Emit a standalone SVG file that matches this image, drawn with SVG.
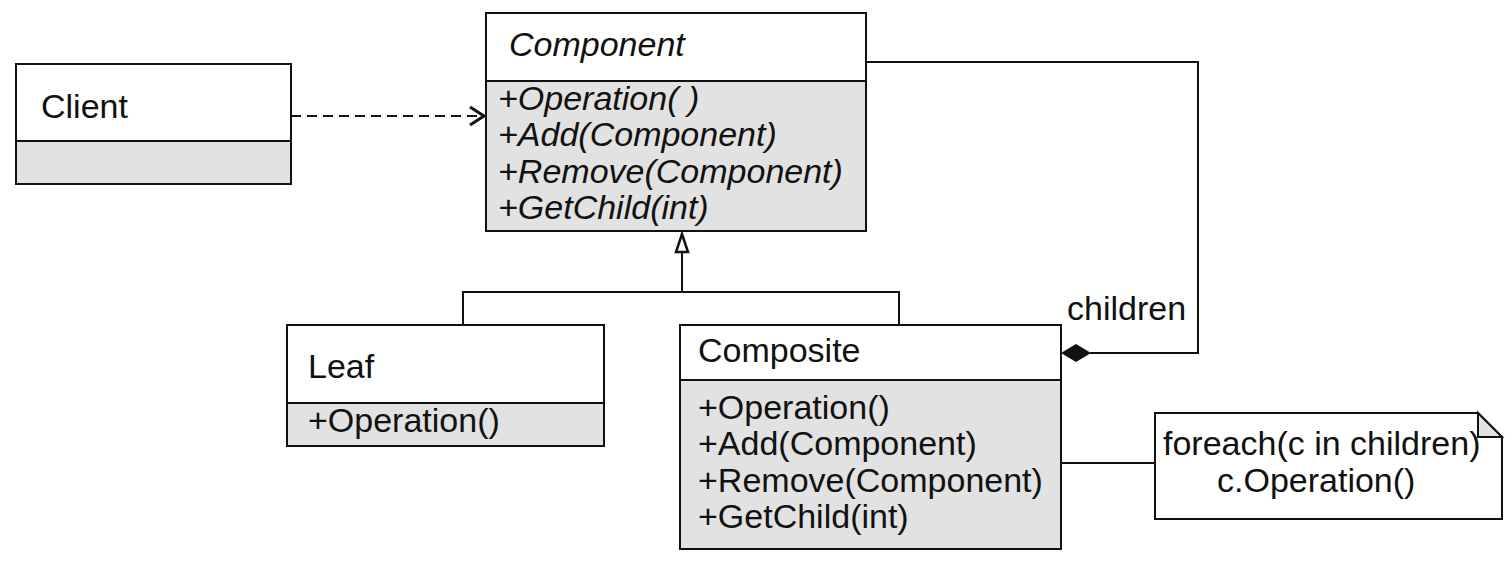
<svg xmlns="http://www.w3.org/2000/svg" width="1512" height="565" viewBox="0 0 1512 565">
<style>
.box{fill:#fff;stroke:#111;stroke-width:2}
.gray{fill:#e2e2e2;stroke:#111;stroke-width:2}
.t{font-family:"Liberation Sans",Arial,sans-serif;font-size:34px;fill:#111}
.i{font-style:italic}
.ln{fill:none;stroke:#111;stroke-width:2}
</style>
<defs>
<marker id="open" markerWidth="20" markerHeight="22" refX="17" refY="11" orient="auto" markerUnits="userSpaceOnUse">
<path d="M3,2 L17,11 L3,20" fill="none" stroke="#111" stroke-width="3"/>
</marker>
</defs>
<g id="connectors">
<path class="ln" d="M291,116 H484" stroke-dasharray="10,6" marker-end="url(#open)"/>
<path class="ln" d="M682,252 V292"/>
<path d="M682,234 L688,252 L676,252 Z" fill="#fff" stroke="#111" stroke-width="2.5"/>
<path class="ln" d="M463,325 V292 H899 V325"/>
<path class="ln" d="M866,62 H1198 V353 H1090"/>
<path d="M1061,353 L1076,344 L1091,353 L1076,362 Z" fill="#111"/>
<text class="t" x="1067" y="320">children</text>
<path class="ln" d="M1061,463 H1155"/>
</g>
<g id="client">
<rect class="box" x="16" y="64" width="275" height="77"/>
<rect class="gray" x="16" y="141" width="275" height="43"/>
<text class="t" x="41" y="118">Client</text>
</g>
<g id="component">
<rect class="box" x="486" y="13" width="380" height="68"/>
<rect class="gray" x="486" y="81" width="380" height="150"/>
<text class="t i" x="509" y="56">Component</text>
<text class="t i" x="498" y="110">+Operation( )</text>
<text class="t i" x="498" y="146">+Add(Component)</text>
<text class="t i" x="498" y="183">+Remove(Component)</text>
<text class="t i" x="498" y="219">+GetChild(int)</text>
</g>
<g id="leaf">
<rect class="box" x="287" y="325" width="317" height="78"/>
<rect class="gray" x="287" y="403" width="317" height="43"/>
<text class="t" x="308" y="378">Leaf</text>
<text class="t" x="308" y="432">+Operation()</text>
</g>
<g id="composite">
<rect class="box" x="680" y="325" width="381" height="55"/>
<rect class="gray" x="680" y="380" width="381" height="169"/>
<text class="t" x="698" y="362">Composite</text>
<text class="t" x="698" y="419">+Operation()</text>
<text class="t" x="698" y="455">+Add(Component)</text>
<text class="t" x="698" y="492">+Remove(Component)</text>
<text class="t" x="698" y="528">+GetChild(int)</text>
</g>
<g id="note">
<path class="box" d="M1155,413 H1478 L1502,437 V519 H1155 Z"/>
<path d="M1478,413 V437 H1502 Z" fill="#e2e2e2" stroke="#111" stroke-width="2"/>
<text class="t" x="1163" y="455">foreach(c in children)</text>
<text class="t" x="1217" y="492">c.Operation()</text>
</g>
</svg>
